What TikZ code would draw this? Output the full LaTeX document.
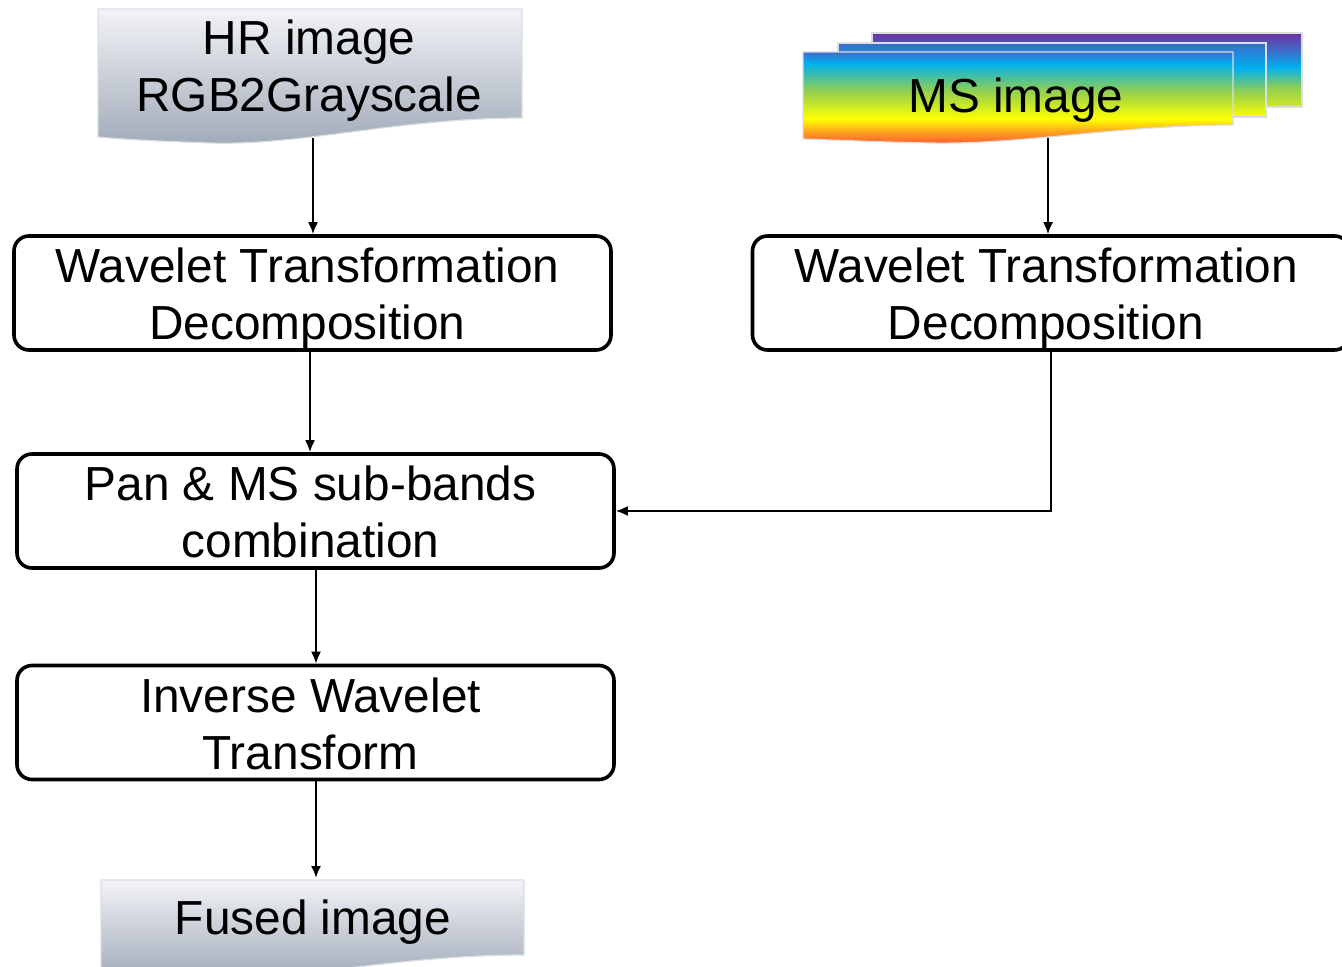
\documentclass[tikz,border=0pt]{standalone}
\usepackage{fontspec}
\setmainfont{Liberation Sans}
\usetikzlibrary{positioning,arrows.meta}

\definecolor{docTop}{HTML}{F2F3F6}
\definecolor{docBot}{HTML}{A0AAB8}
\definecolor{docEdge}{HTML}{DADDE2}
\definecolor{msPurple}{HTML}{7030A0}
\definecolor{msBlue}{HTML}{3C6CC8}
\definecolor{msCyan}{HTML}{00B0F0}
\definecolor{msGreen}{HTML}{92D050}
\definecolor{msYellow}{HTML}{FFFF00}
\definecolor{msYG}{HTML}{D0E828}
\definecolor{msOrange}{HTML}{FFA020}
\definecolor{msRed}{HTML}{FF5530}

\pgfdeclareverticalshading{msfront}{100bp}{color(0bp)=(msRed); color(25bp)=(msRed); color(32bp)=(msOrange); color(39bp)=(msYellow); color(54bp)=(msGreen); color(69bp)=(msCyan); color(75bp)=(msBlue); color(100bp)=(msBlue)}
\pgfdeclareverticalshading{msmiddle}{100bp}{color(0bp)=(msYellow); color(25bp)=(msYellow); color(42bp)=(msGreen); color(58bp)=(msCyan); color(75bp)=(msBlue); color(100bp)=(msBlue)}
\pgfdeclareverticalshading{msback}{100bp}{color(0bp)=(msYG); color(25bp)=(msYG); color(38bp)=(msGreen); color(52bp)=(msCyan); color(63bp)=(msBlue); color(75bp)=(msPurple); color(100bp)=(msPurple)}

% two centred lines with fixed height and depth
\newcommand{\twolines}[2]{\begin{tabular}{@{}c@{\hspace{5pt}}}\rule{0pt}{27pt}#1\\#2\end{tabular}}

\tikzset{
  every node/.style={font=\fontsize{23.9}{28.5}\selectfont, align=center},
  stepbox/.style={draw, line width=1.8pt, rounded corners=7.5pt,
    minimum width=298.5pt, minimum height=57pt, inner xsep=0pt, inner ysep=-3.6pt},
  docshape/.style={draw=docEdge, line width=0.6pt, top color=docTop, bottom color=docBot},
  mslayer/.style={draw=docEdge, line width=0.6pt, shading=#1},
  link/.style={line width=1pt, -{Latex[length=6pt,width=5pt]}},
}

\begin{document}
\begin{tikzpicture}[x=0.5pt, y=-0.5pt]
  \clip (0,0) rectangle (1342,967);

  % input images
  \path[docshape] (98,9) -- (522,9) -- (522,118)
    .. controls (400,118) and (300,146) .. (210,143)
    .. controls (150,141) and (120,139) .. (98,137) -- cycle;
  \node (hr) at (309,71) {HR image\\RGB2Grayscale};
  \coordinate (hrfoot) at (313,138);

  \path[mslayer=msback] (872,33) rectangle (1302,107);
  \path[mslayer=msmiddle] (838,43) rectangle (1266,117);
  \path[mslayer=msfront] (803,52) -- (1233,52) -- (1233,125)
    .. controls (1120,125) and (1020,145) .. (930,143)
    .. controls (880,142) and (830,140) .. (803,139) -- cycle;
  \node (ms) at (1016,100) {MS image};
  \coordinate (msfoot) at (1048,138);

  % processing steps
  \node[stepbox] (wtl) at (312.5,293) {\twolines{Wavelet Transformation}{Decomposition}};
  \node[stepbox] (wtr) at (1051,293) {\twolines{Wavelet Transformation}{Decomposition}};
  \node[stepbox] (comb) at (315.5,511) {\twolines{Pan \& MS sub-bands}{combination}};
  \node[stepbox] (iwt) at (315.5,722.5) {\twolines{Inverse Wavelet}{Transform}};

  % output image
  \path[docshape] (101,880) -- (524,880) -- (524,955)
    .. controls (400,955) and (300,980) .. (210,978)
    .. controls (150,976) and (120,974) .. (101,972) -- cycle;
  \node (fused) at (313,922) {Fused image};

  \draw[link] (hrfoot) -- (hrfoot |- wtl.north);
  \draw[link] (msfoot) -- (msfoot |- wtr.north);
  \draw[link] (wtl.south -| 310,0) -- (comb.north -| 310,0);
  \draw[link] (wtr.south) |- (comb.east);
  \draw[link] (comb.south -| 316,0) -- (iwt.north -| 316,0);
  \draw[link] (iwt.south -| 316,0) -- (316,878);
\end{tikzpicture}
\end{document}
